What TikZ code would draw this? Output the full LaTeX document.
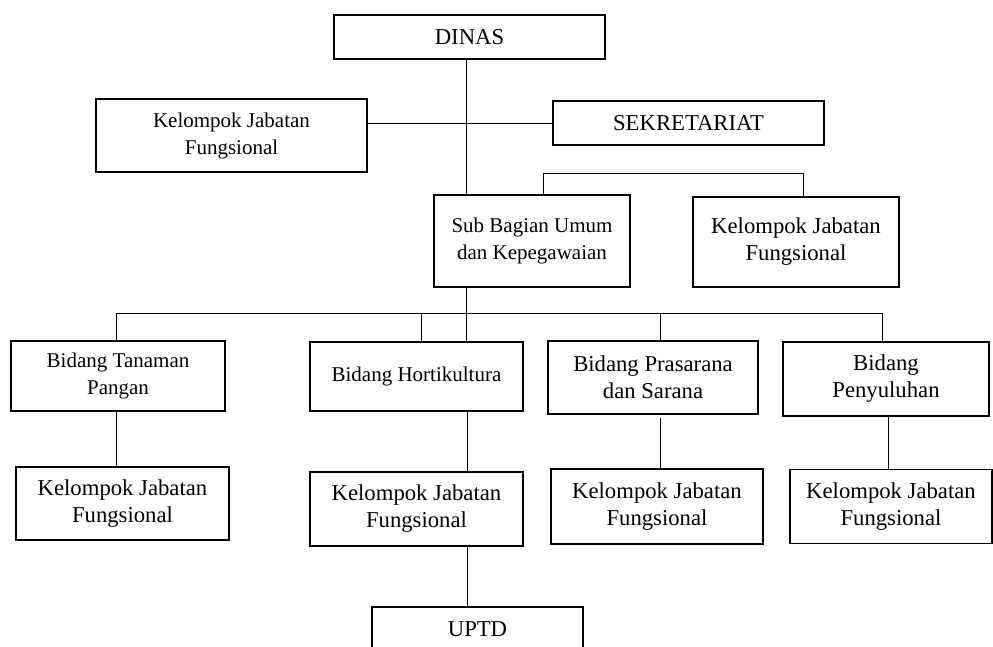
\documentclass[tikz,border=0pt]{standalone}
\usepackage{fontspec}
\setmainfont{Liberation Serif}
\usetikzlibrary{calc}
\tikzset{
  orgbox/.style={draw, line width=1.3pt, inner sep=0pt, align=center},
  smalltxt/.style={font=\fontsize{21}{27}\selectfont},
  bigtxt/.style={font=\fontsize{22.7}{27}\selectfont},
  link/.style={line width=1pt}
}
\begin{document}
\begin{tikzpicture}[x=1pt, y=-1pt]
			%%%%% START %%%%%
			\useasboundingbox (0, 0) rectangle (993, 646);
			\clip (0, 0) rectangle (993, 646);
			\fill[white] (0, 0) rectangle (993, 646);

			% top level
			\node[orgbox, bigtxt, minimum width=271pt, minimum height=44pt] (dinas) at (469.5, 37) {DINAS};
			\node[orgbox, smalltxt, minimum width=271pt, minimum height=73pt] (kjftop) at (231.5, 135.5) {Kelompok Jabatan\\Fungsional};
			\node[orgbox, bigtxt, minimum width=271pt, minimum height=44pt] (sekre) at (688.5, 123) {SEKRETARIAT};

			\node[orgbox, smalltxt, minimum width=196pt, minimum height=92pt] (subbag) at (532, 241) {Sub Bagian Umum\\dan Kepegawaian};
			\node[orgbox, bigtxt, minimum width=206pt, minimum height=90pt] (kjfsub) at (796, 242) {Kelompok Jabatan\\Fungsional};

			% bidang row
			\node[orgbox, smalltxt, minimum width=214pt, minimum height=70pt] (tanaman) at (118, 376) {Bidang Tanaman\\Pangan};
			\node[orgbox, smalltxt, minimum width=213pt, minimum height=69pt] (horti) at (416.5, 376.5) {Bidang Hortikultura};
			\node[orgbox, bigtxt, minimum width=210pt, minimum height=73pt] (prasarana) at (653, 377.5) {Bidang Prasarana\\dan Sarana};
			\node[orgbox, bigtxt, minimum width=206pt, minimum height=74pt] (penyuluhan) at (886, 379) {Bidang\\Penyuluhan};

			% kelompok row
			\node[orgbox, bigtxt, minimum width=213pt, minimum height=73pt] (kjfa) at (122.5, 503.5) {Kelompok Jabatan\\Fungsional};
			\node[orgbox, bigtxt, minimum width=213pt, minimum height=74pt] (kjfb) at (416.5, 509) {Kelompok Jabatan\\Fungsional};
			\node[orgbox, bigtxt, minimum width=212pt, minimum height=75pt] (kjfc) at (657, 506.5) {Kelompok Jabatan\\Fungsional};
			\node[orgbox, bigtxt, minimum width=202pt, minimum height=74pt] (kjfd) at (891, 506.5) {Kelompok Jabatan\\Fungsional};

			\node[orgbox, bigtxt, minimum width=211pt, minimum height=44pt] (uptd) at (477.5, 629) {UPTD};

			% columns of the connectors
			\coordinate (spine) at (466, 0);
			\coordinate (brk) at (543, 173);
			\coordinate (bus) at (0, 313);
			\coordinate (ca) at (116, 0);
			\coordinate (cb) at (421, 0);
			\coordinate (cc) at (660, 0);
			\coordinate (cd) at (882, 0);
			\coordinate (ce) at (888, 0);
			\coordinate (cf) at (467, 0);

			\draw[link] (spine |- dinas.south) -- (spine |- subbag.north);
			\draw[link] (kjftop.east |- sekre.west) -- (sekre.west);
			\draw[link] (brk |- subbag.north) -- (brk) -| ([xshift=7pt]kjfsub.north);
			\draw[link] (spine |- subbag.south) -- (spine |- horti.north);
			\draw[link] (ca |- bus) -- (cd |- bus);
			\draw[link] (ca |- bus) -- (ca |- tanaman.north);
			\draw[link] (cb |- bus) -- (cb |- horti.north);
			\draw[link] (cc |- bus) -- (cc |- prasarana.north);
			\draw[link] (cd |- bus) -- (cd |- penyuluhan.north);

			\draw[link] (ca |- tanaman.south) -- (ca |- kjfa.north);
			\draw[link] (cf |- horti.south) -- (cf |- kjfb.north);
			\draw[link] ([yshift=-3pt]cc |- prasarana.south) -- (cc |- kjfc.north);
			\draw[link] (ce |- penyuluhan.south) -- (ce |- kjfd.north);
			\draw[link] (cf |- kjfb.south) -- (cf |- uptd.north);
			%%%%% END %%%%%
\end{tikzpicture}
\end{document}
